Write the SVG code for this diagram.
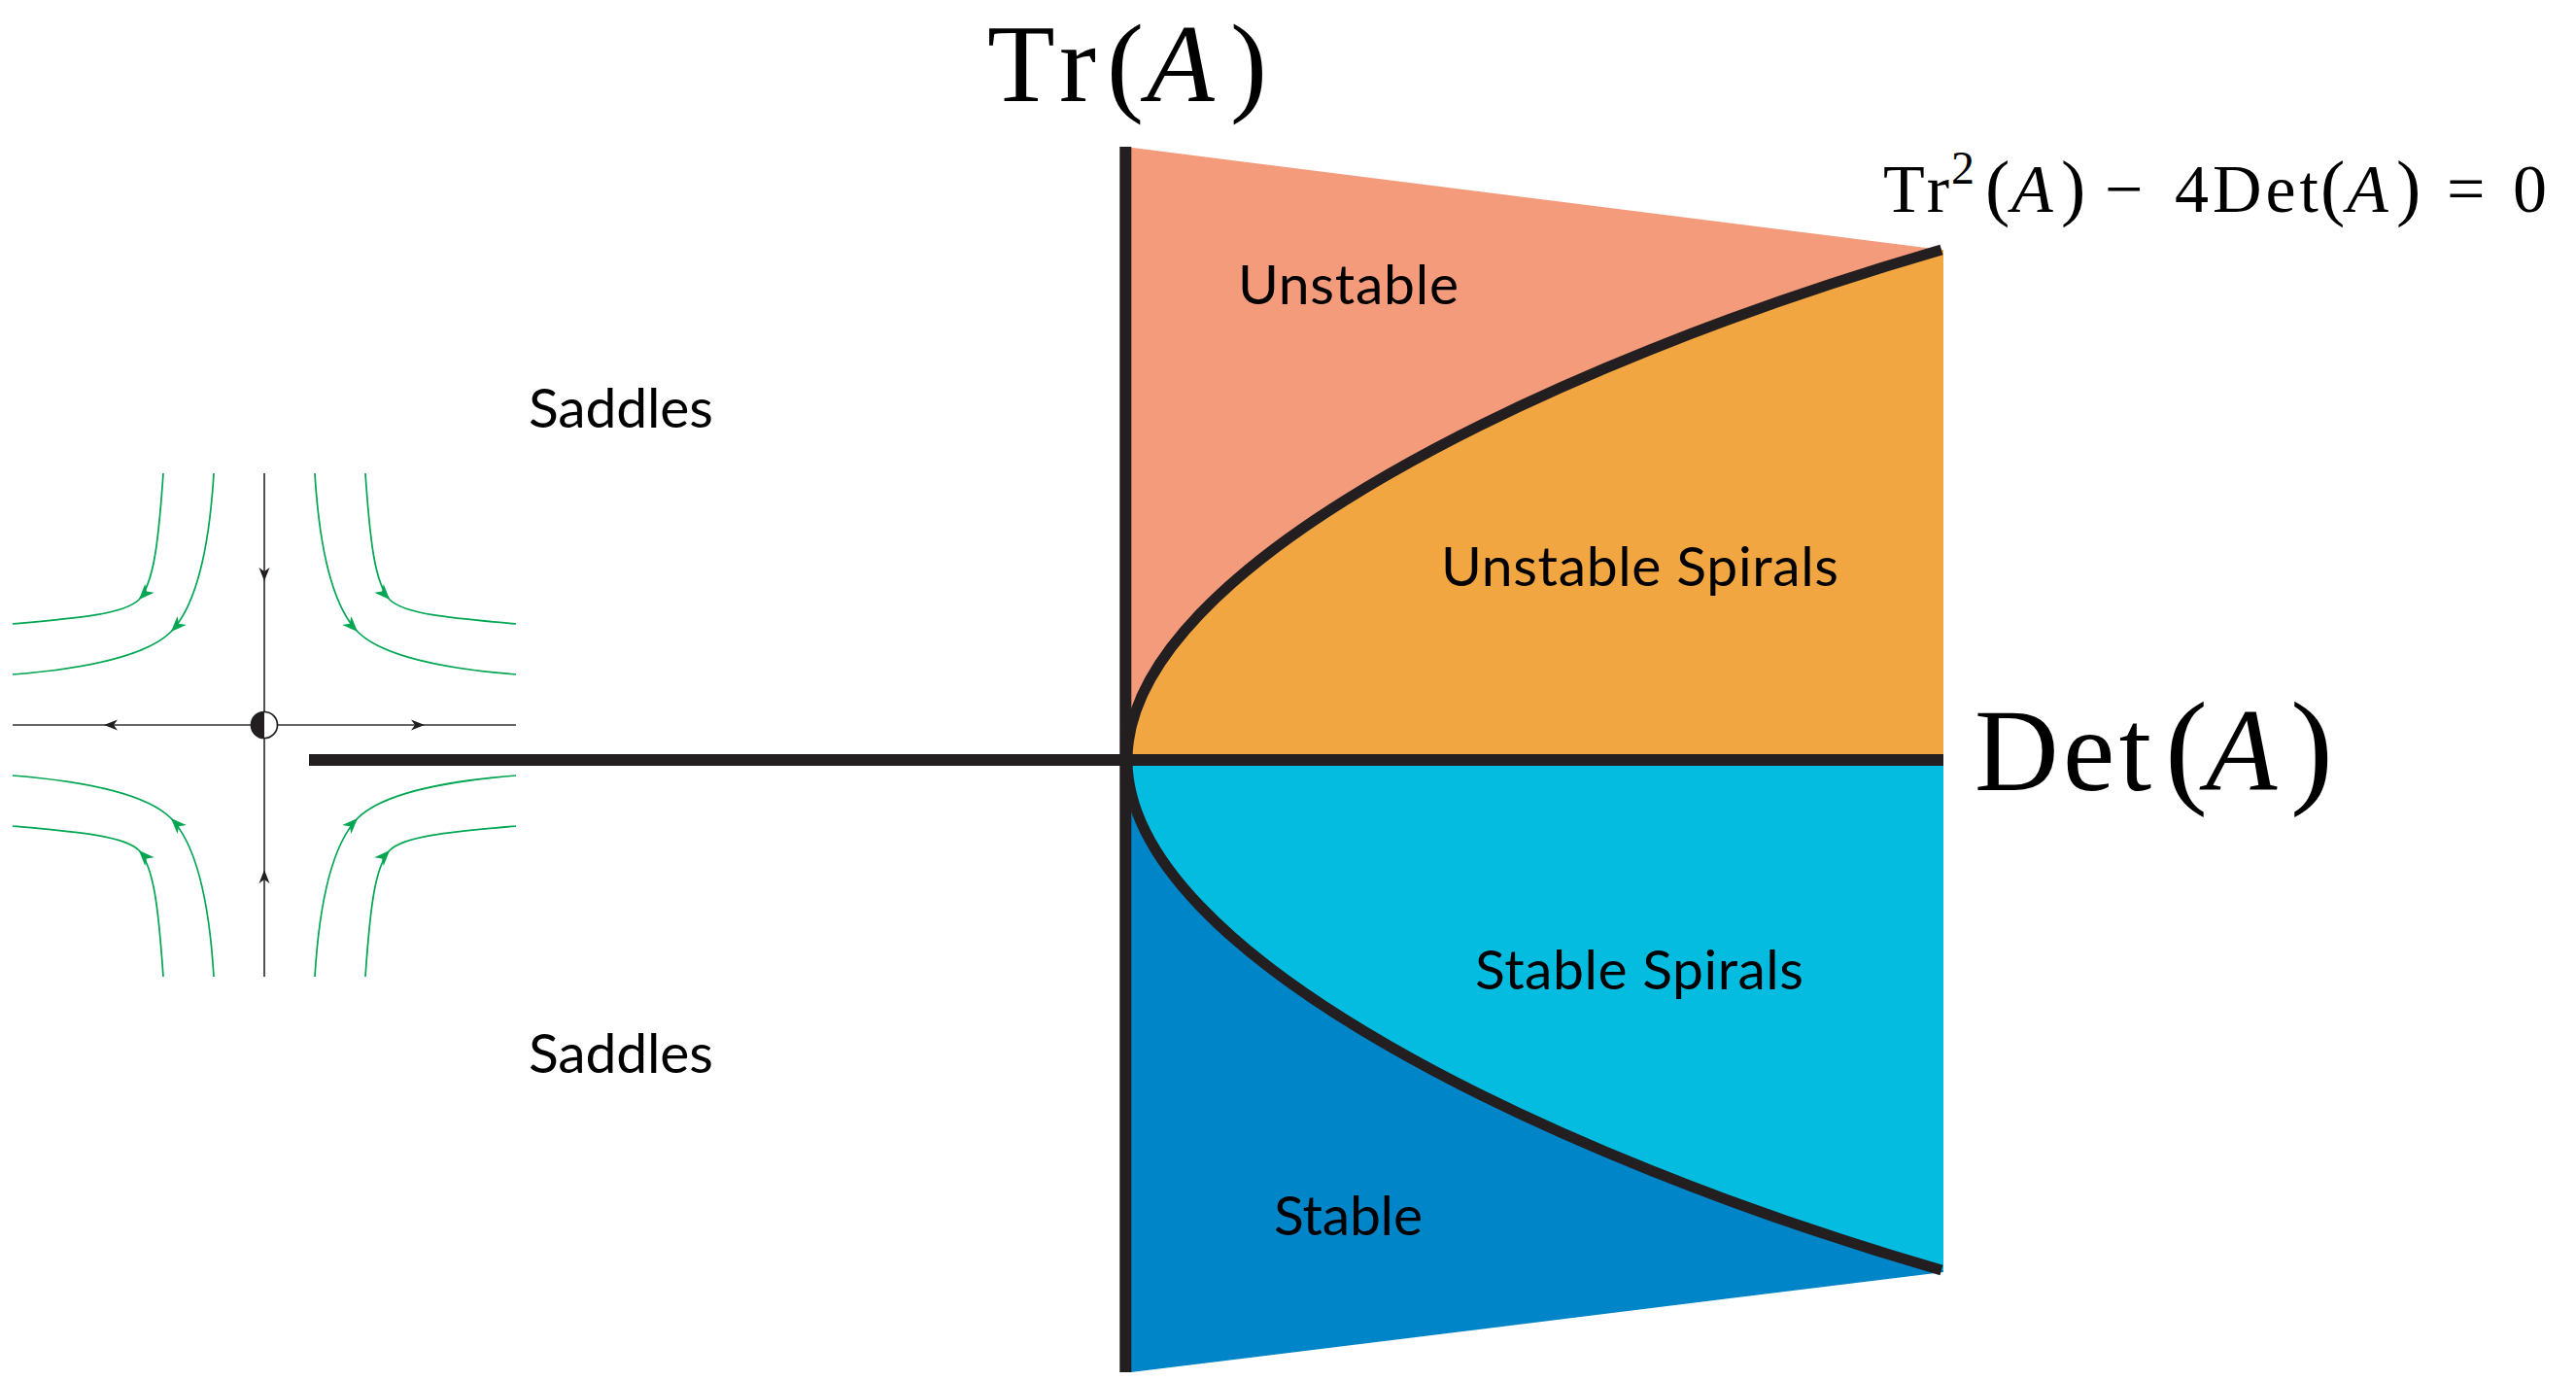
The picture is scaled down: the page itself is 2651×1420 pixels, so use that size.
<svg xmlns="http://www.w3.org/2000/svg" width="2651" height="1420" viewBox="0 0 2651 1420">
<defs>
<style>
.lbl{font-family:Lato,"Open Sans","Noto Sans",sans-serif;font-size:57px;fill:#000;}
.math{font-family:"Liberation Serif","DejaVu Serif",serif;fill:#000;}
.it{font-style:italic;}
.thick{fill:none;stroke:#231F20;stroke-width:12;stroke-linecap:butt;}
.bound{fill:none;stroke:#231F20;stroke-width:11;stroke-linecap:butt;}
.flow{fill:none;stroke:#00A651;stroke-width:1.7;}
.axis{fill:none;stroke:#333;stroke-width:1.7;}
</style>
<marker id="ag" viewBox="-17 -8 19 16" refX="0" refY="0" markerWidth="19" markerHeight="16" markerUnits="userSpaceOnUse" orient="auto">
<path d="M0,0 L-16,-6.5 L-11.5,0 L-16,6.5 Z" fill="#00A651"/>
</marker>
<marker id="ab" viewBox="-16 -7 18 14" refX="0" refY="0" markerWidth="18" markerHeight="14" markerUnits="userSpaceOnUse" orient="auto">
<path d="M0,0 L-14,-5.5 L-10,0 L-14,5.5 Z" fill="#231F20"/>
</marker>
</defs>
<rect width="2651" height="1420" fill="#fff"/>

<g id="region-unstable">
<path d="M1158,151 L1998,257 L2000,257 L2000,782 L1158,782 Z" fill="#F49B7B"/>
</g>
<g id="region-unstable-spirals">
<path d="M1160,782 C1160,582 1598,373 1998,257 L2000,257 L2000,782 Z" fill="#F2A641"/>
</g>
<g id="region-stable">
<path d="M1158,782 L2000,782 L2000,1309 L1164,1412 L1158,1412 Z" fill="#0085C8"/>
</g>
<g id="region-stable-spirals">
<path d="M1160,782 C1160,982 1598,1191 1998,1307 L2000,1307 L2000,782 Z" fill="#04BBE0"/>
</g>

<g id="connectors">
<line class="thick" x1="318" y1="782" x2="2000" y2="782"/>
<line class="thick" x1="1158.3" y1="151" x2="1158.3" y2="1412"/>
<path class="bound" d="M1160,782 C1160,582 1598,373 1998,257"/>
<path class="bound" d="M1160,782 C1160,982 1598,1191 1998,1307"/>
</g>

<g id="saddle-portrait">
<g id="flow-lines">
<g>
<path class="flow" marker-mid="url(#ag)" d="M168,487 C163,560 158,600 143,617 C128,632 80,636 13,642"/>
<path class="flow" marker-mid="url(#ag)" d="M220,487 C215,570 200,625 176,650 C152,674 90,688 13,694"/>
</g>
<g transform="matrix(-1 0 0 1 544 0)">
<path class="flow" marker-mid="url(#ag)" d="M168,487 C163,560 158,600 143,617 C128,632 80,636 13,642"/>
<path class="flow" marker-mid="url(#ag)" d="M220,487 C215,570 200,625 176,650 C152,674 90,688 13,694"/>
</g>
<g transform="matrix(1 0 0 -1 0 1492)">
<path class="flow" marker-mid="url(#ag)" d="M168,487 C163,560 158,600 143,617 C128,632 80,636 13,642"/>
<path class="flow" marker-mid="url(#ag)" d="M220,487 C215,570 200,625 176,650 C152,674 90,688 13,694"/>
</g>
<g transform="matrix(-1 0 0 -1 544 1492)">
<path class="flow" marker-mid="url(#ag)" d="M168,487 C163,560 158,600 143,617 C128,632 80,636 13,642"/>
<path class="flow" marker-mid="url(#ag)" d="M220,487 C215,570 200,625 176,650 C152,674 90,688 13,694"/>
</g>
</g>
<g id="eigen-lines">
<path class="axis" marker-mid="url(#ab)" d="M272,746 L107,746 L13,746"/>
<path class="axis" marker-mid="url(#ab)" d="M272,746 L437,746 L531,746"/>
<path class="axis" marker-mid="url(#ab)" d="M272,487 L272,598 L272,746"/>
<path class="axis" marker-mid="url(#ab)" d="M272,1005 L272,895 L272,746"/>
</g>
<g id="fixed-point">
<circle cx="272" cy="746" r="13.5" fill="#fff" stroke="#231F20" stroke-width="1.7"/>
<path d="M272,732.5 A13.5,13.5 0 0 0 272,759.5 Z" fill="#231F20"/>
</g>
</g>

<g id="labels">
<text class="lbl" x="1274" y="313" textLength="227">Unstable</text>
<text class="lbl" x="1483" y="603" textLength="409">Unstable Spirals</text>
<text class="lbl" x="1518" y="1018" textLength="338">Stable Spirals</text>
<text class="lbl" x="1311" y="1271" textLength="153">Stable</text>
<text class="lbl" x="544" y="440" textLength="190">Saddles</text>
<text class="lbl" x="544" y="1104" textLength="190">Saddles</text>
</g>

<g id="axis-labels">
<text class="math" font-size="114" y="104"><tspan x="1016" textLength="112">Tr</tspan><tspan x="1139">(</tspan><tspan x="1180" class="it">A</tspan><tspan x="1266">)</tspan></text>
<text class="math" font-size="120" y="813"><tspan x="2032" textLength="182">Det</tspan><tspan x="2228" font-size="132">(</tspan><tspan x="2270" class="it">A</tspan><tspan x="2357" font-size="132">)</tspan></text>
<text class="math" font-size="70" y="218"><tspan x="1938" textLength="68">Tr</tspan><tspan x="2008" y="189" font-size="48">2</tspan><tspan x="2043" y="218" font-size="76">(</tspan><tspan x="2070" class="it">A</tspan><tspan x="2121" font-size="76">)</tspan><tspan x="2166" textLength="52">−</tspan><tspan x="2238" textLength="148">4Det</tspan><tspan x="2388" font-size="76">(</tspan><tspan x="2415" class="it">A</tspan><tspan x="2466" font-size="76">)</tspan><tspan x="2518" textLength="50">=</tspan><tspan x="2586">0</tspan></text>
</g>
</svg>
